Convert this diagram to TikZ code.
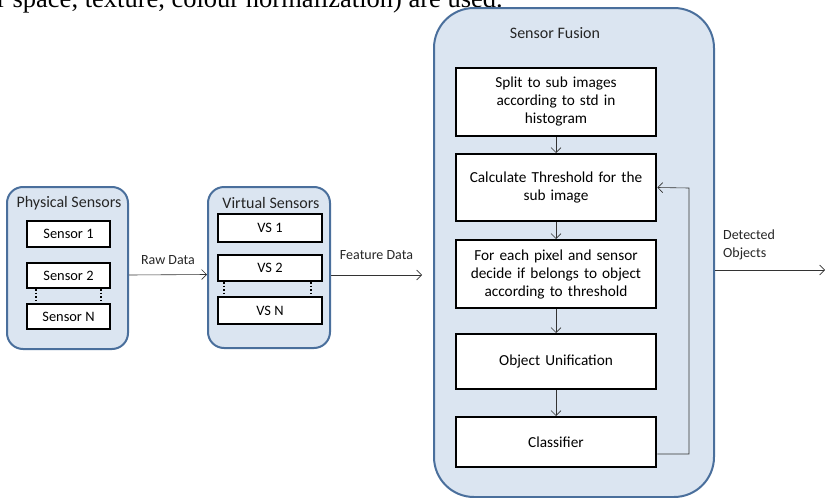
\documentclass[tikz,border=0pt]{standalone}
\usepackage{fontspec}
\setmainfont{Carlito}
\newfontfamily\bodyfont{Liberation Serif}
\usetikzlibrary{arrows.meta}
\definecolor{groupfill}{HTML}{DBE5F1}
\definecolor{groupline}{HTML}{4A6F9C}

\begin{document}
\begin{tikzpicture}[x=1pt,y=-1pt,
    group/.style={draw=groupline,fill=groupfill,line width=2pt,rounded corners=16pt},
    unit/.style={draw,fill=white,line width=2pt,font=\fontsize{14.4}{16}\selectfont},
    stage/.style={draw,fill=white,line width=2pt,minimum width=200,text width=194,
                  align=center,font=\fontsize{15.3}{18}\selectfont},
    title/.style={font=\fontsize{16}{18}\selectfont,text=black!85},
    label/.style={font=\fontsize{14}{18}\selectfont,text=black!85,align=left},
    flow/.style={draw=black!80,line width=0.6pt,-{Straight Barb[length=5pt,width=10pt]}}]

    \useasboundingbox (0,0) rectangle (825,498);

    % cut-off line of body text (top)
    \node[anchor=base west,inner sep=0pt,font=\bodyfont\fontsize{26.5}{28}\selectfont] (bodyline) at (-3,7) {r space, texture, colour normalization) are used.};

    % Physical sensors (left)
    \node[group,minimum width=121,minimum height=162] (phys) at (67.5,268) {};
    \node[title] (physttl) at (69,203) {Physical Sensors};
    \node[unit,minimum width=83,minimum height=26] (s1) at (68.5,234) {Sensor 1};
    \node[unit,minimum width=83,minimum height=25] (s2) at (68.5,275.5) {Sensor 2};
    \node[unit,minimum width=83,minimum height=25] (sn) at (68.5,316.5) {Sensor N};
    \draw[line width=1.6pt,dotted] ([xshift=10pt]s2.south west) -- ([xshift=10pt]sn.north west);
    \draw[line width=1.6pt,dotted] ([xshift=-10pt]s2.south east) -- ([xshift=-10pt]sn.north east);

    % Virtual sensors (middle)
    \node[group,minimum width=122,minimum height=161] (virt) at (269,267.5) {};
    \node[title] (virtttl) at (271,203) {Virtual Sensors};
    \node[unit,minimum width=104,minimum height=28] (vs1) at (270,228) {VS 1};
    \node[unit,minimum width=104,minimum height=26] (vs2) at (270,268) {VS 2};
    \node[unit,minimum width=104,minimum height=27] (vsn) at (270,310.5) {VS N};
    \draw[line width=1.6pt,dotted] ([xshift=7pt]vs2.south west) -- ([xshift=7pt]vsn.north west);
    \draw[line width=1.6pt,dotted] ([xshift=-12pt]vs2.south east) -- ([xshift=-12pt]vsn.north east);

    % Sensor fusion (right)
    \node[group,rounded corners=40pt,minimum width=280,minimum height=489] (fusion) at (574,252.5) {};
    \node[title] (fusionttl) at (555,33) {Sensor Fusion};
    \node[stage,minimum height=68] (split) at (556,102) {Split to sub images\\according to std in\\histogram};
    \node[stage,minimum height=67] (calc) at (556,187.5) {Calculate Threshold for the\\sub image};
    \node[stage,minimum height=68] (decide) at (556,274) {For each pixel and sensor\\decide if belongs to object\\according to threshold};
    \node[stage,minimum height=55] (unify) at (556,361.5) {Object Unification};
    \node[stage,minimum height=50] (classify) at (556,442) {Classifier};

    \draw[flow] (split) -- (calc);
    \draw[flow] (calc) -- (decide);
    \draw[flow] (decide) -- (unify);
    \draw[flow] (unify) -- (classify);
    \coordinate (loop) at (689,188);
    \draw[flow] ([yshift=-12pt]classify.east) -| (loop) -- (calc.east);

    % data between the groups
    \coordinate (featend) at (422,275);
    \coordinate (outend) at (825,270);
    \draw[flow] ([yshift=-7pt]phys.east) -- ([yshift=-7pt]virt.west)
        node[label,midway,above=7pt] (rawlbl) {Raw Data};
    \draw[flow] (virt.east |- featend) -- (featend)
        node[label,midway,above=12pt] (featlbl) {Feature Data};
    \draw[flow] (fusion.east |- outend) -- (outend);
    \node[label,anchor=south west,inner sep=0pt] (outlbl) at (723,260) {Detected\\Objects};
\end{tikzpicture}
\end{document}
